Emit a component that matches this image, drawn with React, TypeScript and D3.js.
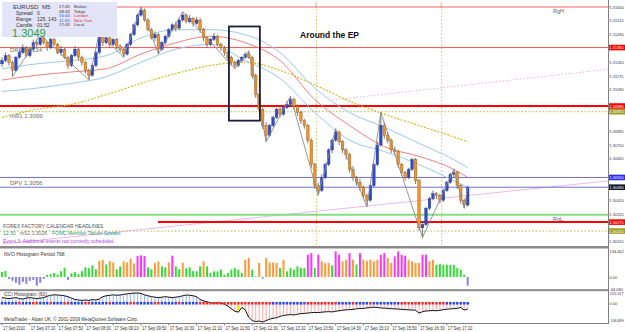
import React from "react";
import * as d3 from "d3";

// ---------- DATA ----------
const firstOpen = 1.3125;
const closes = [
  1.3127,1.3130,1.3126,1.3121,1.3129,1.3132,1.3135,1.3130,1.3134,1.3138,
  1.3137,1.3141,1.3138,1.3135,1.3140,1.3137,1.3132,1.3134,1.3129,1.3124,
  1.3130,1.3134,1.3129,1.3126,1.3121,1.3118,1.3124,1.3132,1.3142,1.3138,
  1.3141,1.3137,1.3140,1.3136,1.3134,1.3131,1.3137,1.3143,1.3149,1.3155,
  1.3158,1.3152,1.3146,1.3141,1.3143,1.3134,1.3138,1.3142,1.3146,1.3149,
  1.3147,1.3152,1.3155,1.3151,1.3153,1.3150,1.3152,1.3146,1.3141,1.3137,
  1.3140,1.3142,1.3137,1.3135,1.3132,1.3129,1.3126,1.3124,1.3127,1.3129,
  1.3131,1.3129,1.3118,1.3106,1.3097,1.3087,1.3081,1.3087,1.3092,1.3097,
  1.3094,1.3098,1.3100,1.3103,1.3099,1.3095,1.3090,1.3087,1.3078,1.3063,
  1.3050,1.3047,1.3055,1.3063,1.3072,1.3078,1.3083,1.3077,1.3072,1.3069,
  1.3060,1.3055,1.3052,1.3049,1.3044,1.3041,1.3050,1.3063,1.3075,1.3087,
  1.3081,1.3078,1.3072,1.3071,1.3063,1.3058,1.3055,1.3060,1.3066,1.3053,
  1.3024,1.3026,1.3036,1.3042,1.3045,1.3044,1.3041,1.3047,1.3052,1.3057,
  1.3058,1.3050,1.3041,1.3038,1.3049,
];
const highs = [
  1.3129,1.3132,1.3131,1.3127,1.3130,1.3134,1.3137,1.3136,1.3135,1.3140,
  1.3140,1.3143,1.3142,1.3139,1.3141,1.3141,1.3138,1.3136,1.3135,1.3130,
  1.3131,1.3136,1.3135,1.3130,1.3127,1.3122,1.3125,1.3133,1.3144,1.3143,
  1.3142,1.3142,1.3141,1.3141,1.3137,1.3135,1.3138,1.3144,1.3150,1.3156,
  1.3160,1.3159,1.3153,1.3147,1.3145,1.3144,1.3139,1.3143,1.3147,1.3150,
  1.3151,1.3153,1.3157,1.3156,1.3155,1.3154,1.3154,1.3153,1.3147,1.3142,
  1.3141,1.3144,1.3143,1.3138,1.3136,1.3133,1.3130,1.3127,1.3128,1.3130,
  1.3132,1.3133,1.3130,1.3119,1.3107,1.3098,1.3089,1.3088,1.3093,1.3098,
  1.3099,1.3099,1.3102,1.3105,1.3104,1.3100,1.3096,1.3091,1.3088,1.3079,
  1.3064,1.3052,1.3057,1.3064,1.3073,1.3079,1.3085,1.3084,1.3078,1.3073,
  1.3070,1.3062,1.3056,1.3054,1.3050,1.3045,1.3051,1.3064,1.3077,1.3095,
  1.3089,1.3083,1.3079,1.3074,1.3072,1.3064,1.3059,1.3061,1.3067,1.3067,
  1.3054,1.3028,1.3037,1.3043,1.3047,1.3046,1.3045,1.3048,1.3053,1.3058,
  1.3060,1.3059,1.3051,1.3042,1.3050,
];
const lows = [
  1.3123,1.3126,1.3124,1.3117,1.3120,1.3128,1.3131,1.3129,1.3129,1.3133,
  1.3135,1.3136,1.3137,1.3133,1.3134,1.3136,1.3131,1.3130,1.3128,1.3122,
  1.3123,1.3129,1.3127,1.3124,1.3119,1.3115,1.3117,1.3123,1.3131,1.3136,
  1.3137,1.3135,1.3136,1.3134,1.3132,1.3129,1.3130,1.3136,1.3142,1.3148,
  1.3154,1.3151,1.3145,1.3140,1.3139,1.3131,1.3133,1.3137,1.3141,1.3145,
  1.3145,1.3146,1.3151,1.3150,1.3150,1.3148,1.3149,1.3144,1.3139,1.3135,
  1.3136,1.3139,1.3136,1.3133,1.3130,1.3127,1.3124,1.3122,1.3123,1.3126,
  1.3128,1.3128,1.3116,1.3104,1.3095,1.3085,1.3077,1.3080,1.3086,1.3091,
  1.3092,1.3093,1.3097,1.3099,1.3097,1.3093,1.3088,1.3085,1.3076,1.3061,
  1.3048,1.3044,1.3046,1.3054,1.3062,1.3070,1.3077,1.3075,1.3070,1.3066,
  1.3058,1.3053,1.3050,1.3047,1.3042,1.3037,1.3040,1.3049,1.3062,1.3074,
  1.3079,1.3076,1.3070,1.3069,1.3061,1.3056,1.3053,1.3054,1.3059,1.3051,
  1.3022,1.3018,1.3025,1.3035,1.3041,1.3042,1.3039,1.3040,1.3046,1.3051,
  1.3055,1.3048,1.3039,1.3036,1.3037,
];

// moving averages read at sample bars
const maIdx = [0,10,20,30,40,50,60,70,80,90,100,110,120,130,134];
const maMid = [1.3115,1.3118,1.3120,1.3122,1.3131,1.3138,1.3142,1.3138,1.3127,1.3103,1.3087,1.3074,1.3068,1.3060,1.3055];
const maUpper = [1.3122,1.3125,1.3127,1.3130,1.3141,1.3146,1.3146,1.3143,1.3132,1.3110,1.3095,1.3086,1.3076,1.3066,1.3061];
const maLower = [1.3108,1.3110,1.3113,1.3117,1.3126,1.3134,1.3137,1.3127,1.3116,1.3095,1.3078,1.3071,1.3063,1.3053,1.3049];
const maSlow = [1.3092,1.3097,1.3100,1.3106,1.3113,1.3119,1.3124,1.3126,1.3121,1.3112,1.3102,1.3094,1.3087,1.3080,1.3077];

// zigzag swing points
const zzIdx = [3,11,25,28,35,40,45,52,67,71,76,83,91,96,105,109,121,130,133,134];
const zzPrice = [1.3117,1.3143,1.3115,1.3144,1.3129,1.3160,1.3131,1.3157,1.3122,1.3133,1.3077,1.3105,1.3044,1.3085,1.3037,1.3095,1.3018,1.3060,1.3036,1.3049];

// horizontal levels
const levelNames = ["RgH","DR1","mR1","mR1b","DPV","Bid","RgL","mS1","mS1b"];
const levelPrices = [1.3160,1.3135,1.3099,1.30955,1.3055,1.3049,1.3032,1.30275,1.3022];
const levelTexts = { DR1: "DR1   1.3134", mR1: "mR1   1.3099", DPV: "DPV   1.3056", mS1: "mS1  1.3026" };

// trend lines (bar index, price)
const trendSolid = [[0, 1.3014],[175, 1.3053]];
const trendDotted = [[95, 1.31027],[175, 1.31218]];
const sessionIdx = [90.5, 126.5];

// EP annotation box (bar index / price)
const epBox = { i0: 65.3, i1: 74.2, p0: 1.3148, p1: 1.3090 };

const priceTicks = [1.316,1.31515,1.3143,1.31345,1.3126,1.31175,1.3109,1.31005,1.3092,1.30835,1.3075,1.30665,1.3058,1.30495,1.3041,1.30325,1.3024,1.30155];
const timeLabels = ["17 Sep 2010","17 Sep 07:10","17 Sep 07:50","17 Sep 08:30","17 Sep 09:10","17 Sep 09:50","17 Sep 10:30","17 Sep 11:10","17 Sep 11:50","17 Sep 12:30","17 Sep 13:10","17 Sep 13:50","17 Sep 14:30","17 Sep 15:10","17 Sep 15:50","17 Sep 16:30","17 Sep 17:10"];
const timeLabelIdx = [0,8,16,24,32,40,48,56,64,72,80,88,96,104,112,120,128];

const nvo = [
  25,31,-10,-20,-30,-40,-25,-35,-20,-15,
  -45,-30,-10,10,15,20,12,30,48,-15,
  20,25,15,30,50,45,60,40,82,88,
  65,82,75,40,55,80,75,95,70,108,
  112,108,50,40,72,80,55,50,75,110,
  55,40,74,45,50,30,30,55,81,55,
  21,29,29,38,12,21,38,46,38,21,
  89,98,38,4,72,-8,98,75,75,72,
  46,89,29,46,38,55,46,46,115,123,
  46,115,81,72,72,60,132,115,81,89,
  123,89,64,123,89,81,89,81,89,115,
  123,98,72,106,132,115,110,89,81,72,
  72,115,115,81,89,63,66,63,63,63,
  63,46,38,12,-45,
];
const nvoTicks = [134.062, 0, -64.08];

const cci = [
  60,55,50,55,60,50,45,55,60,55,50,55,60,
  75,85,90,88,85,80,70,
  55,40,35,30,35,30,40,35,45,
  70,80,85,90,85,88,95,100,105,108,110,105,
  90,80,70,65,60,65,70,65,60,65,70,
  80,88,85,80,70,
  40,25,15,5,0,5,2,-10,-30,-60,-85,-95,-45,-70,
  -150,-185,-195,-190,-200,-185,-170,-160,-155,
  -140,-130,-125,-120,-125,-118,
  -110,-108,-105,-100,-98,-100,-95,-92,-90,-92,
  -85,-80,-75,-70,-68,-65,-60,-55,-55,
  -50,-45,-42,-45,-50,-52,-55,-58,-60,-62,
  -65,-68,-70,-72,-75,-105,
  -90,-82,-80,-78,-80,-76,-68,-64,-60,-58,-55,-45,-72,-62,
];
const cciSignal = [
  1,1,1,1,1,-1,1,1,1,-1,-1,1,1,1,-1,1,1,1,-1,-1,
  1,1,1,1,-1,-1,1,1,1,1,1,-1,1,1,1,1,1,-1,-1,1,
  1,1,1,1,-1,-1,1,1,1,1,1,-1,1,1,1,1,1,
  -1,-1,-1,-1,-1,-1,-1,-1,-1,-1,-1,-1,-1,-1,-1,-1,-1,-1,-1,-1,-1,
  1,1,1,1,1,1,1,1,1,1,
  -1,-1,-1,-1,-1,-1,-1,-1,-1,
  1,1,1,1,-1,1,1,1,1,-1,1,1,1,1,1,1,1,1,
  -1,-1,-1,-1,-1,-1,-1,-1,-1,-1,-1,-1,-1,
  1,1,1,1,1,1,1,
];
const cciYellow = [68];
const cciTicks = [220.517, 0, -106.899];

// ---------- STYLE ----------
const F = "'Liberation Sans', Arial, sans-serif";
const PLOT_R = 608;
const levelStyle: Record<string, any> = {
  RgH: { c: "#ff6060", w: 1, x0: 117 },
  DR1: { c: "#ff5050", w: 1, box: "#ff0000", dy: 4 },
  mR1: { c: "#ff0000", w: 2, box: "#ff0000", dy: 12 },
  mR1b: { c: "#b8b840", w: 1, dash: "1.5,2", box: "#a0a020" },
  DPV: { c: "#7070d8", w: 1, box: "#2a2aff", dy: 8 },
  Bid: { c: "#7070d8", w: 1, box: "#151530" },
  RgL: { c: "#80e080", w: 2 },
  mS1: { c: "#ff0000", w: 2, box: "#ff0000", x0: 158, dy: 13, tx: 20 },
  mS1b: { c: "#b8b840", w: 1, dash: "1.5,2", box: "#a0a020" },
};
const BOX_H = 5.6;
const AX_TX = PLOT_R + 1.6;

export default function App() {
  const x = d3.scaleLinear().domain([0, 134]).range([2, 467.7]);
  const y = d3.scaleLinear().domain([1.30155, 1.316]).range([241.6, 7]);
  const yN = d3.scaleLinear().domain([-64.08, 134.062]).range([289.4, 251]);
  const yC = d3.scaleLinear().domain([-200, 120]).range([322, 292]);
  const opens = closes.map((c, i) => (i === 0 ? firstOpen : closes[i - 1]));

  const maLine = (vals: number[]) =>
    d3.line<number>().x((_, k) => x(maIdx[k])).y((v) => y(v)).curve(d3.curveMonotoneX)(vals) || "";
  const zz = d3.line<number>().x((_, k) => x(zzIdx[k])).y((v) => y(v))(zzPrice) || "";
  const cciPath = d3.line<number>().x((_, k) => x(k)).y((v) => yC(v))(cci) || "";

  const nvoColor = (v: number) => (v < 0 ? "#8a7ee0" : v < 70 ? "#33dd33" : v < 105 ? "#ff9933" : "#ff33ff");
  const boxYs = levelNames.map((nm, k) => (levelStyle[nm].box ? y(levelPrices[k]) : null)).filter((v) => v !== null) as number[];
  const visibleTicks = priceTicks.filter((p) => boxYs.every((b) => Math.abs(y(p) - b) > 6.5));

  const axText = (key: any, yy: number, s: string, fill = "#333") => (
    <text key={key} x={AX_TX} y={yy} fontSize={s.length > 7 ? 3.6 : 3.9} fill={fill}>{s}</text>
  );

  return (
    <svg width={625} height={332} style={{ position: "fixed", left: 0, top: 0, background: "#fff" }} fontFamily={F}>
      <defs>
        <clipPath id="main"><rect x={0} y={1} width={PLOT_R} height={245} /></clipPath>
      </defs>
      <rect x={0} y={0} width={625} height={332} fill="#fff" />

      <g clipPath="url(#main)">
        {sessionIdx.map((s, k) => (
          <line key={k} x1={x(s)} x2={x(s)} y1={2} y2={246} stroke="#c8c870" strokeDasharray="1.5,2" />
        ))}
        <line x1={x(trendSolid[0][0])} y1={y(trendSolid[0][1])} x2={x(trendSolid[1][0])} y2={y(trendSolid[1][1])} stroke="#f0b8f0" strokeWidth={1} />
        <line x1={x(trendDotted[0][0])} y1={y(trendDotted[0][1])} x2={x(trendDotted[1][0])} y2={y(trendDotted[1][1])} stroke="#f0b0e0" strokeDasharray="1.5,2" />
        {levelNames.map((nm, k) => {
          const s = levelStyle[nm];
          return (
            <line key={nm} x1={s.x0 ?? 0} x2={PLOT_R} y1={y(levelPrices[k])} y2={y(levelPrices[k])}
              stroke={s.c} strokeWidth={s.w} strokeDasharray={s.dash} />
          );
        })}
        <path d={maLine(maSlow)} fill="none" stroke="#c8c020" strokeWidth={1.2} strokeDasharray="2,1.5" />
        <path d={maLine(maUpper)} fill="none" stroke="#9cc8f0" strokeWidth={1} />
        <path d={maLine(maLower)} fill="none" stroke="#9cc8f0" strokeWidth={1} />
        <path d={maLine(maMid)} fill="none" stroke="#f08080" strokeWidth={1} />
        {closes.map((c, i) => {
          const o = opens[i];
          const cx = x(i);
          const top = y(Math.max(o, c));
          const bot = y(Math.min(o, c));
          const bull = c >= o;
          return (
            <g key={i}>
              <line x1={cx} x2={cx} y1={y(highs[i])} y2={y(lows[i])} stroke="#555" strokeWidth={0.8} />
              <rect x={cx - 1.3} y={top} width={2.6} height={Math.max(1, bot - top)}
                fill={bull ? "#2c4bd0" : "#f7931e"} stroke={bull ? "#23368c" : "#8a5a2a"} strokeWidth={0.4} />
            </g>
          );
        })}
        <path d={zz} fill="none" stroke="#8c8c8c" strokeWidth={0.9} />
        <rect x={x(epBox.i0)} y={y(epBox.p0)} width={x(epBox.i1) - x(epBox.i0)} height={y(epBox.p1) - y(epBox.p0)}
          fill="none" stroke="#1c1c3c" strokeWidth={1.8} />
      </g>

      <text x={300} y={38} fontSize={8.5} fontWeight="bold" fill="#111">Around the EP</text>

      {levelNames.map((nm, k) => {
        const t = (levelTexts as any)[nm];
        if (!t) return null;
        const s = levelStyle[nm];
        return <text key={nm} x={s.tx ?? 10} y={y(levelPrices[k]) + s.dy} fontSize={nm === "mS1" ? 5 : 6} fill="#6a6a6a">{t}</text>;
      })}
      <text x={553} y={y(levelPrices[0]) + 6} fontSize={5.5} fill="#5a5a7a">RgH</text>
      <text x={553} y={y(levelPrices[6]) + 6} fontSize={5.5} fill="#5a5a7a">RgL</text>
      {sessionIdx.map((s, k) => (
        <text key={k} x={x(s) - 1.5} y={7} fontSize={6} fill="#a0a060">|</text>
      ))}

      <text x={3} y={228} fontSize={5} fill="#555">FOREX FACTORY CALENDAR HEADLINES</text>
      <text x={3} y={235} fontSize={5} fill="#2a9a7a">12:30</text>
      <text x={52} y={235} fontSize={5} fill="#2a9a7a">FOMC Member Tarullo Speaks</text>
      <text x={3} y={243} fontSize={5} fill="#b040d0">Event 3: Additional events not currently scheduled</text>

      <rect x={2} y={2} width={115} height={35} fill="#e4e4f8" />
      <text x={13} y={9} fontSize={6} fill="#333">EURUSD</text>
      <text x={42} y={9} fontSize={6} fill="#333">M5</text>
      <text x={16} y={15} fontSize={5.2} fill="#333">Spread</text>
      <text x={37} y={15} fontSize={5} fill="#333">0</text>
      <text x={16} y={21} fontSize={5.2} fill="#333">Range</text>
      <text x={37} y={21} fontSize={5} fill="#333">125, 143</text>
      <text x={16} y={27} fontSize={5.2} fill="#333">Candle</text>
      <text x={37} y={27} fontSize={5} fill="#333">01:52</text>
      <text x={12} y={37} fontSize={11} fill="#2ea02e">1.3049</text>
      {[["17:43", "Broker", "#333", "#333"], ["08:43", "Tokyo", "#333", "#333"], ["16:43", "London", "#3050e0", "#e03030"], ["11:43", "New York", "#3050e0", "#e03030"], ["17:43", "Local", "#333", "#333"]].map((r, k) => (
        <g key={k}>
          <text x={59} y={8 + k * 4.5} fontSize={4.3} fill={r[2]}>{r[0]}</text>
          <text x={74} y={8 + k * 4.5} fontSize={4.3} fill={r[3]}>{r[1]}</text>
        </g>
      ))}

      <rect x={0} y={246} width={PLOT_R} height={2.5} fill="#8a8a8a" />
      <rect x={0} y={289.2} width={PLOT_R} height={2} fill="#8a8a8a" />

      <text x={4} y={256} fontSize={5} fill="#333">NVO Histogram  Period 768</text>
      {nvo.map((v, i) => (
        <rect key={i} x={x(i) - 1} y={Math.min(yN(v), yN(0))} width={2} height={Math.abs(yN(v) - yN(0))} fill={nvoColor(v)} />
      ))}

      <text x={4} y={296} fontSize={5} fill="#333">CCI Histogram (60)</text>
      {cci.map((v, i) => (
        <line key={i} x1={x(i)} x2={x(i)} y1={yC(0)} y2={yC(v)} stroke={v >= 0 ? "#8fa8ff" : "#ffa0a0"} strokeWidth={0.9} />
      ))}
      {cciYellow.map((i) => (
        <rect key={i} x={x(i) - 1.5} y={yC(-20)} width={3} height={yC(cci[i]) - yC(-20)} fill="#f0f000" />
      ))}
      <path d={cciPath} fill="none" stroke="#111" strokeWidth={1} />
      {cciSignal.map((s, i) => (
        <rect key={i} x={x(i) - 1.2} y={yC(0) - 1.3} width={2.4} height={2.6} fill={s > 0 ? "#2244ff" : "#ff2222"} />
      ))}
      <text x={4} y={321} fontSize={4.6} fill="#333">MetaTrader - Alpari UK, © 2001-2009 MetaQuotes Software Corp.</text>

      <line x1={0} x2={PLOT_R} y1={323.5} y2={323.5} stroke="#808080" />
      <line x1={PLOT_R + 0.5} x2={PLOT_R + 0.5} y1={0} y2={324} stroke="#808080" />
      {visibleTicks.map((p, k) => (
        <g key={k}>
          <line x1={PLOT_R} x2={PLOT_R + 1.5} y1={y(p)} y2={y(p)} stroke="#808080" />
          {axText(k, y(p) + 1.5, p.toFixed(5))}
        </g>
      ))}
      {levelNames.map((nm, k) => {
        const s = levelStyle[nm];
        if (!s.box) return null;
        const yy = y(levelPrices[k]);
        return (
          <g key={nm}>
            <rect x={PLOT_R + 1} y={yy - BOX_H / 2} width={17} height={BOX_H} fill={s.box} />
            {axText(nm, yy + 1.5, levelPrices[k].toFixed(5), "#fff")}
          </g>
        );
      })}
      {nvoTicks.map((t, k) => axText("n" + k, yN(t) + 2, t === 0 ? "0.00" : t.toFixed(3)))}
      {axText("c0", 295, cciTicks[0].toFixed(3))}
      {axText("c1", yC(cciTicks[1]) + 2, "0.00")}
      {axText("c2", 322, cciTicks[2].toFixed(3))}

      {timeLabels.map((t, k) => (
        <g key={k}>
          <line x1={x(timeLabelIdx[k])} x2={x(timeLabelIdx[k])} y1={323.5} y2={325.5} stroke="#808080" />
          <text x={x(timeLabelIdx[k]) + 1} y={330} fontSize={5} fill="#333"
            textLength={k === 0 ? 22 : 24.5} lengthAdjust="spacingAndGlyphs">{t}</text>
        </g>
      ))}
    </svg>
  );
}
